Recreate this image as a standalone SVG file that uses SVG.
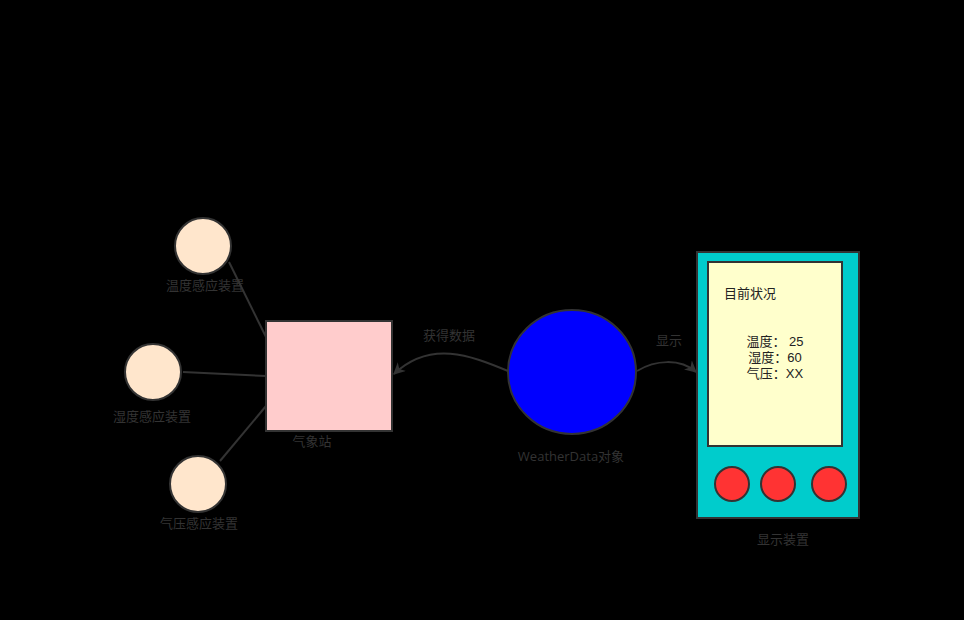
<svg xmlns="http://www.w3.org/2000/svg" width="964" height="620" viewBox="0 0 964 620">
<defs>
<style>
.lbl{font-family:"Open Sans","Noto Sans CJK SC",sans-serif;font-size:13px;fill:#333;text-anchor:middle}
.in{font-family:"Liberation Sans","Noto Sans CJK SC",sans-serif;font-size:13px;fill:#222;text-anchor:middle}
.st{stroke:#333;stroke-width:2}
.ln{stroke:#333;stroke-width:2;fill:none}
</style>
<marker id="ar" viewBox="0 0 10 10" refX="9" refY="5" markerWidth="6" markerHeight="6" orient="auto" markerUnits="strokeWidth">
<path d="M0,0 L10,5 L0,10 L3,5 Z" fill="#333"/>
</marker>
</defs>
<rect width="964" height="620" fill="#000"/>
<g id="connectors">
<line class="ln" x1="229" y1="262" x2="266" y2="337"/>
<line class="ln" x1="183" y1="372" x2="266" y2="376"/>
<line class="ln" x1="220" y1="461" x2="266" y2="406"/>
<path class="ln" d="M508,371 C470,355 430,340 394,374" marker-end="url(#ar)"/>
<path class="ln" d="M637,371 C655,360 680,358 696,372" marker-end="url(#ar)"/>
<text class="lbl" x="449" y="340">获得数据</text>
<text class="lbl" x="669" y="345">显示</text>
</g>
<g id="sensor-temp">
<circle class="st" cx="203" cy="246" r="28" fill="#FFE6CC"/>
<text class="lbl" x="205" y="290">温度感应装置</text>
</g>
<g id="sensor-humid">
<circle class="st" cx="153" cy="372" r="28" fill="#FFE6CC"/>
<text class="lbl" x="152" y="421">湿度感应装置</text>
</g>
<g id="sensor-press">
<circle class="st" cx="198" cy="484" r="28" fill="#FFE6CC"/>
<text class="lbl" x="199" y="528">气压感应装置</text>
</g>
<g id="station">
<rect class="st" x="266" y="321" width="126" height="110" fill="#FFCCCC"/>
<text class="lbl" x="312" y="446">气象站</text>
</g>
<g id="weatherdata">
<ellipse class="st" cx="572" cy="372" rx="64" ry="62" fill="#0000FF"/>
<text class="lbl" x="571" y="461">WeatherData对象</text>
</g>
<g id="display">
<rect class="st" x="697" y="252" width="162" height="266" fill="#00CCCC"/>
<rect class="st" x="708" y="262" width="134" height="184" fill="#FFFFCC"/>
<text class="in" x="724" y="298" style="text-anchor:start">目前状况</text>
<text class="in" x="775" y="346">温度： 25</text>
<text class="in" x="775" y="362">湿度：60</text>
<text class="in" x="775" y="378">气压：XX</text>
<circle class="st" cx="732" cy="484" r="17" fill="#FF3333"/>
<circle class="st" cx="778" cy="484" r="17" fill="#FF3333"/>
<circle class="st" cx="829" cy="484" r="17" fill="#FF3333"/>
<text class="lbl" x="783" y="544">显示装置</text>
</g>
</svg>
